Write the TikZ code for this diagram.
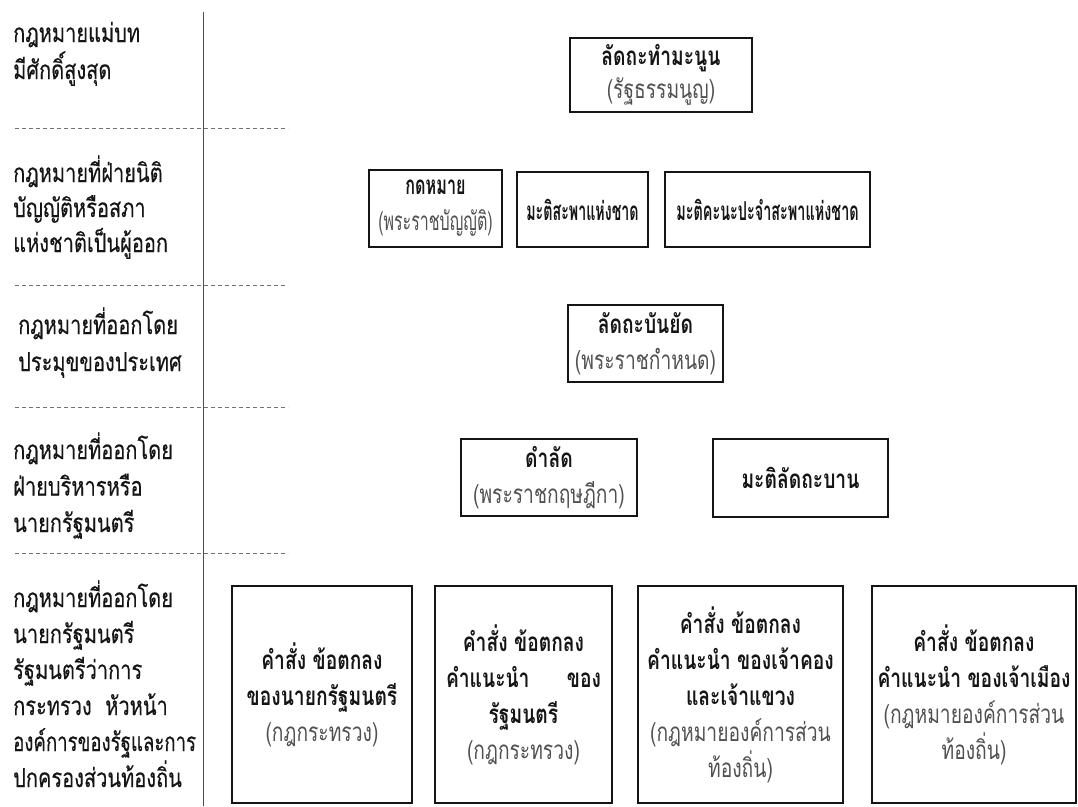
\documentclass[tikz,border=0pt]{standalone}
\usepackage{fontspec}
\usepackage{graphicx}
\newfontfamily\thai[Script=Thai,FakeStretch=0.74]{Loma}
\newfontfamily\thailab[Script=Thai,FakeStretch=0.77,FakeBold=0.3]{Loma}
\definecolor{subgray}{HTML}{505050}
\definecolor{ink}{HTML}{151515}
\newcommand\subt[1]{{\mdseries\color{subgray}#1}}
\newcommand\sq[2]{\scalebox{#1}[1]{#2}}
\begin{document}
\begin{tikzpicture}[x=1pt,y=-1pt,
  box/.style={draw=ink, line width=1.6pt, inner sep=0pt, align=center,
    font=\thai\bfseries\fontsize{26}{36}\selectfont, text=ink},
  lab/.style={anchor=base west, inner sep=0pt, text=ink,
    font=\thailab\fontsize{26}{36}\selectfont},
  vline/.style={draw=black!70, line width=0.9pt},
  dline/.style={draw=black!55, line width=0.8pt, dash pattern=on 4pt off 3pt}
]
\useasboundingbox (0,0) rectangle (1078,806);
% frame lines
\coordinate (vt) at (203,12);
\coordinate (vb) at (203,806);
\draw[vline] (vt) -- (vb);
\foreach \y [count=\i] in {128,285,407,553} {
  \coordinate (dl\i) at (15,\y);
  \coordinate (dr\i) at (288,\y);
  \draw[dline] (dl\i) -- (dr\i);
}
% left labels
\node[lab] (l1) at (13,42) {\vtop{\baselineskip=37pt\hbox{กฎหมายแม่บท}\hbox{มีศักดิ์สูงสุด}}};
\node[lab] (l2) at (13,182) {\vtop{\baselineskip=35pt\hbox{กฎหมายที่ฝ่ายนิติ}\hbox{บัญญัติหรือสภา}\hbox{แห่งชาติเป็นผู้ออก}}};
\node[lab] (l3) at (18,334) {\vtop{\baselineskip=37pt\hbox{กฎหมายที่ออกโดย}\hbox{ประมุขของประเทศ}}};
\node[lab] (l4) at (13,459) {\vtop{\baselineskip=36.5pt\hbox{กฎหมายที่ออกโดย}\hbox{ฝ่ายบริหารหรือ}\hbox{นายกรัฐมนตรี}}};
\node[lab] (l5) at (13,607) {\vtop{\baselineskip=36pt\hbox{กฎหมายที่ออกโดย}\hbox{นายกรัฐมนตรี}\hbox{รัฐมนตรีว่าการ}\hbox{กระทรวง\ \ หัวหน้า}\hbox{\sq{0.93}{องค์การของรัฐและการ}}\hbox{ปกครองส่วนท้องถิ่น}}};
% boxes
\node[box, minimum width=182pt, minimum height=74pt] (b1) at (661,75)
  {ลัดถะทำมะนูน\\[-3pt]\subt{(รัฐธรรมนูญ)}};
\node[box, minimum width=133pt, minimum height=77pt] (b2) at (435.5,208.5)
  {\sq{0.84}{กดหมาย}\\\subt{\sq{0.83}{(พระราชบัญญัติ)}}};
\node[box, minimum width=131pt, minimum height=75pt] (b3) at (582.5,209.5)
  {\sq{0.74}{มะติสะพาแห่งชาด}};
\node[box, minimum width=205pt, minimum height=75pt] (b4) at (767.5,209.5)
  {\sq{0.75}{มะติคะนะปะจำสะพาแห่งชาด}};
\node[box, minimum width=155pt, minimum height=77pt] (b5) at (645.5,343.5)
  {ลัดถะบันยัด\\\subt{(พระราชกำหนด)}};
\node[box, minimum width=176pt, minimum height=77pt] (b6) at (549,477.5)
  {ดำลัด\\\subt{(พระราชกฤษฎีกา)}};
\node[box, minimum width=175pt, minimum height=78pt] (b7) at (800.5,478)
  {มะติลัดถะบาน};
\node[box, minimum width=180pt, minimum height=217pt] (b8) at (322,694.5)
  {คำสั่ง ข้อตกลง\\ของนายกรัฐมนตรี\\\subt{(กฎกระทรวง)}};
\node[box, minimum width=177pt, minimum height=217pt] (b9) at (523.5,694.5)
  {คำสั่ง ข้อตกลง\\\makebox[155pt][s]{คำแนะนำ\hfill ของ}\\รัฐมนตรี\\\subt{(กฎกระทรวง)}};
\node[box, minimum width=205pt, minimum height=217pt] (b10) at (740.5,694.5)
  {คำสั่ง ข้อตกลง\\คำแนะนำ ของเจ้าคอง\\และเจ้าแขวง\\\subt{(กฎหมายองค์การส่วน}\\\subt{ท้องถิ่น)}};
\node[box, minimum width=204pt, minimum height=217pt] (b11) at (974,694.5)
  {คำสั่ง ข้อตกลง\\คำแนะนำ ของเจ้าเมือง\\\subt{(กฎหมายองค์การส่วน}\\\subt{ท้องถิ่น)}};
\end{tikzpicture}
\end{document}
